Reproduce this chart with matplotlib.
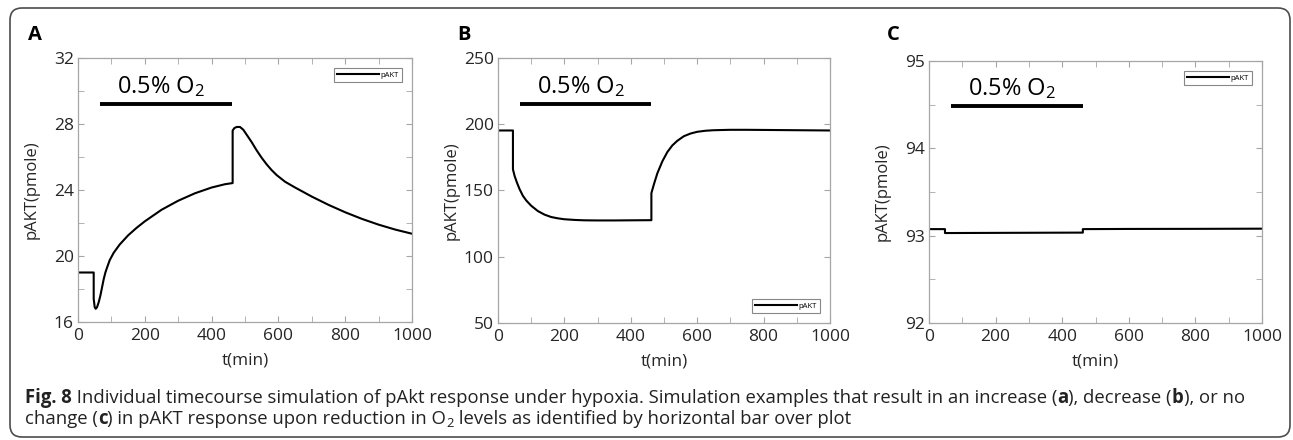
import matplotlib
matplotlib.use("Agg")
import matplotlib.pyplot as plt
from matplotlib.patches import FancyBboxPatch
from matplotlib.transforms import IdentityTransform, ScaledTranslation
from matplotlib.ticker import MultipleLocator

# ---------------- data ----------------
tA = [0, 47, 47, 50, 53, 57, 62, 67, 72, 77, 82, 87, 95, 107, 125, 150, 175, 200,
      250, 300, 350, 400, 440, 463, 463, 468, 475, 485, 495, 505, 520, 535, 550,
      565, 580, 595, 620, 650, 700, 750, 800, 850, 900, 950, 1000]
vA = [19.0, 19.0, 17.4, 16.9, 16.8, 16.9, 17.2, 17.6, 18.1, 18.6, 19.0, 19.3,
      19.75, 20.2, 20.7, 21.25, 21.7, 22.1, 22.8, 23.35, 23.8, 24.15, 24.35, 24.42,
      27.6, 27.75, 27.82, 27.82, 27.65, 27.35, 26.9, 26.4, 25.95, 25.55, 25.2,
      24.9, 24.5, 24.15, 23.6, 23.1, 22.65, 22.25, 21.9, 21.6, 21.35]

tB = [0, 45, 45, 50, 57, 65, 75, 85, 100, 120, 140, 160, 180, 200, 230, 260, 300,
      350, 400, 462, 462, 470, 480, 495, 510, 525, 540, 560, 580, 600, 625, 650,
      700, 750, 800, 900, 1000]
vB = [195.3, 195.3, 166, 161, 156, 151, 146, 142.5, 138.5, 134.5, 131.8, 130,
      129, 128.3, 127.8, 127.5, 127.4, 127.4, 127.5, 127.6, 148, 155, 163, 172,
      179, 184, 187.5, 191, 193, 194.3, 195.1, 195.5, 195.8, 195.8, 195.7, 195.5,
      195.3]

tC = [0, 48, 48, 200, 462, 462, 600, 800, 1000]
vC = [93.075, 93.075, 93.03, 93.032, 93.035, 93.075, 93.077, 93.078, 93.08]

hypoxia_start = 65
hypoxia_end = 462
bar_levels = [29.2, 215.2, 94.48]
label_levels = [29.88, 223.8, 94.61]
label_t = 250

panel_letters = ["A", "B", "C"]
ylims = [(16, 32), (50, 250), (92, 95)]
ymajor = [4, 50, 1]
yminor = [2, 50, 0.5]
legend_locs = ["upper right", "lower right", "upper right"]
series_name = "pAKT"

# ---------------- figure ----------------
W, H = 1293, 440
fig = plt.figure(figsize=(W / 100, H / 100), dpi=100)
plt.rcParams['font.family'] = ['Open Sans', 'DejaVu Sans']

boxes = [(78, 58, 412, 322), (498, 58, 830, 323), (929, 61, 1262, 323)]
letter_x = [28, 457, 887]

spine_col = "#a6a6a6"
text_col = "#262626"
series = [(tA, vA), (tB, vB), (tC, vC)]
axes = []

for i, (l, t, r, b) in enumerate(boxes):
    aw, ah = r - l, b - t
    ax = fig.add_axes([l / W, 1 - b / H, aw / W, ah / H])
    axes.append(ax)
    tt, vv = series[i]
    ax.plot(tt, vv, color="black", lw=1.5, label=series_name)
    ax.set_xlim(0, 1000)
    ax.set_ylim(*ylims[i])
    ax.xaxis.set_major_locator(MultipleLocator(200))
    ax.xaxis.set_minor_locator(MultipleLocator(100))
    ax.yaxis.set_major_locator(MultipleLocator(ymajor[i]))
    ax.yaxis.set_minor_locator(MultipleLocator(yminor[i]))
    ax.tick_params(which="both", direction="in", top=True, right=True,
                   color=spine_col, labelcolor=text_col, labelsize=12.5)
    ax.tick_params(axis="x", pad=4)
    ax.tick_params(axis="y", pad=3)
    ax.tick_params(which="major", length=4)
    ax.tick_params(which="minor", length=4)
    for s in ax.spines.values():
        s.set_color(spine_col)
        s.set_linewidth(0.9)
    ax.set_xlabel("t(min)", fontsize=12.3, color=text_col)
    ax.set_ylabel("pAKT(pmole)", fontsize=12.0, color=text_col)
    ax.xaxis.set_label_coords(0.5, -30 / ah)
    ax.yaxis.set_label_coords(-38 / aw, 0.5)
    # hypoxia bar and label
    ax.plot([hypoxia_start, hypoxia_end], [bar_levels[i]] * 2, color="black",
            lw=2.8, solid_capstyle="butt")
    ax.text(label_t, label_levels[i], r"0.5% O$\mathregular{_2}$", fontsize=17,
            ha="center", va="baseline", color="black")
    leg = ax.legend(loc=legend_locs[i], fontsize=5.5, handlelength=5.5,
                    handletextpad=0.2, borderpad=0.4, fancybox=False,
                    framealpha=1, borderaxespad=1.35)
    leg.get_frame().set_edgecolor("#888888")
    leg.get_frame().set_linewidth(0.8)
    fig.text(letter_x[i] / W, 1 - 35 / H, panel_letters[i], fontsize=14.5,
             fontweight="bold", va="center", ha="left", color="black")

# border
border = FancyBboxPatch((10, 3), 1280, 429,
                        boxstyle="round,pad=0,rounding_size=12",
                        transform=IdentityTransform(), fill=False,
                        edgecolor="#4d4d4d", lw=1.2)
fig.patches.append(border)

# caption
caption_lines = [
    [("Fig. 8", "bold"), (" Individual timecourse simulation of pAkt response under hypoxia. "
      "Simulation examples that result in an increase (", "normal"), ("a", "bold"),
     ("), decrease (", "normal"), ("b", "bold"), ("), or no", "normal")],
    [("change (", "normal"), ("c", "bold"),
     (") in pAKT response upon reduction in O", "normal"), ("2", "sub"),
     (" levels as identified by horizontal bar over plot", "normal")],
]
caption_baselines = [403, 424]
cap_size = 13.35
renderer = fig.canvas.get_renderer()
for line, yb in zip(caption_lines, caption_baselines):
    x = 25
    for txt, style in line:
        if style == "sub":
            tobj = fig.text(x / W, 1 - (yb + 3) / H, txt, fontsize=cap_size * 0.7,
                            va="baseline", ha="left", color="#222222")
        else:
            tobj = fig.text(x / W, 1 - yb / H, txt, fontsize=cap_size,
                            fontweight=("bold" if style == "bold" else "normal"),
                            va="baseline", ha="left", color="#222222")
        bb = tobj.get_window_extent(renderer)
        x += bb.width

# MATLAB-like placement of the last x tick label
fig.canvas.draw()
for ax in axes:
    lbl = ax.xaxis.get_major_ticks()[-1].label1
    lbl.set_transform(lbl.get_transform() +
                      ScaledTranslation(-6.5 / 72, 0, fig.dpi_scale_trans))

fig.savefig("out.png", dpi=100)
